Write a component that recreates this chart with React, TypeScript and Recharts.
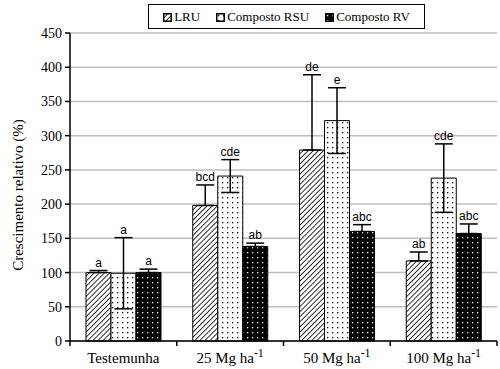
import React from "react";
import {
    BarChart,
    Bar,
    XAxis,
    YAxis,
    CartesianGrid,
    ErrorBar,
    LabelList,
} from "recharts";

const categories = ["Testemunha", "25 Mg ha-1", "50 Mg ha-1", "100 Mg ha-1"];

const lru = [100, 198, 279, 117];
const lruErr = [3, 30, 110, 13];
const lruLetters = ["a", "bcd", "de", "ab"];

const rsu = [99, 241, 322, 238];
const rsuErr = [52, 24, 48, 50];
const rsuLetters = ["a", "cde", "e", "cde"];

const rv = [100, 138, 160, 157];
const rvErr = [5, 5, 10, 14];
const rvLetters = ["a", "ab", "abc", "abc"];

const yTicks = [0, 50, 100, 150, 200, 250, 300, 350, 400, 450];

// LRU and RV bars are opaque, so only the upper half of their error bars shows
const data = categories.map((name, i) => ({
    name,
    lru: lru[i],
    lruErr: [0, lruErr[i]],
    rsu: rsu[i],
    rsuErr: rsuErr[i],
    rv: rv[i],
    rvErr: [0, rvErr[i]],
}));

const serif = "'Liberation Serif', 'Times New Roman', serif";
const sans = "'Liberation Sans', Arial, sans-serif";
const W = 500;
const H = 369;
const plotLeft = 70;
const plotRight = 3;
const band = (W - plotLeft - plotRight) / categories.length;

// letter above the top of each error bar
const letterLabel = (letters: string[], errs: number[]) => (props: any) => {
    const { x, y, width, height, value, index } = props;
    if (value == null || !height) return null;
    const ppu = height / value;
    const top = y - errs[index] * ppu;
    return (
        <text
            x={x + width / 2}
            y={top - 4}
            textAnchor="middle"
            style={{ fontFamily: sans, fontSize: 12 }}
            fill="#000"
        >
            {letters[index]}
        </text>
    );
};

const XTick = (props: any) => {
    const { x, y, payload, index } = props;
    const label: string = payload.value;
    const sup = label.endsWith("-1");
    const main = sup ? label.slice(0, -2) : label;
    return (
        <g>
            <line x1={x - band / 2} x2={x - band / 2} y1={y} y2={y + 5} stroke="#000" strokeWidth={1.5} />
            {index === categories.length - 1 && (
                <line x1={x + band / 2} x2={x + band / 2} y1={y} y2={y + 5} stroke="#000" strokeWidth={1.5} />
            )}
            <text x={x} y={y + 22} textAnchor="middle" style={{ fontFamily: serif, fontSize: 15 }} fill="#000">
                {main}
                {sup && (
                    <tspan dy={-6} style={{ fontSize: 12 }}>
                        -1
                    </tspan>
                )}
            </text>
        </g>
    );
};

const YTick = (props: any) => {
    const { x, y, payload } = props;
    return (
        <text x={x} y={y + 5} textAnchor="end" style={{ fontFamily: serif, fontSize: 14 }} fill="#000">
            {payload.value}
        </text>
    );
};

const YLabel = (props: any) => {
    const { viewBox } = props;
    const cx = 18;
    const cy = viewBox.y + viewBox.height / 2 + 8;
    return (
        <text
            x={cx}
            y={cy}
            transform={`rotate(-90 ${cx} ${cy})`}
            textAnchor="middle"
            dominantBaseline="central"
            style={{ fontFamily: serif, fontSize: 15 }}
            fill="#000"
        >
            Crescimento relativo (%)
        </text>
    );
};

const Swatch = ({ fill }: { fill: string }) => (
    <svg width={9} height={9} style={{ verticalAlign: "middle", marginRight: 2 }}>
        <rect x={0.75} y={0.75} width={7.5} height={7.5} fill={fill} stroke="#000" strokeWidth={1.5} />
    </svg>
);

const Patterns = () => (
    <defs>
        <pattern id="hatch" width={3.6} height={3.6} patternUnits="userSpaceOnUse" patternTransform="rotate(45)">
            <rect width={3.6} height={3.6} fill="#fff" />
            <line x1={0} y1={0} x2={0} y2={3.6} stroke="#000" strokeWidth={1.6} />
        </pattern>
        <pattern id="dots" width={5} height={5} patternUnits="userSpaceOnUse">
            <rect width={5} height={5} fill="#fff" />
            <rect x={2} y={2} width={1.3} height={1.3} fill="#000" />
        </pattern>
        <pattern id="darkdots" width={5} height={5} patternUnits="userSpaceOnUse">
            <rect width={5} height={5} fill="#000" />
            <rect x={2} y={2} width={1.3} height={1.3} fill="#fff" />
        </pattern>
    </defs>
);

export default function App() {
    return (
        <div style={{ position: "absolute", left: 0, top: 0, width: W, height: H, background: "#fff" }}>
            <BarChart
                width={W}
                height={H}
                data={data}
                barGap={0}
                barSize={25}
                margin={{ top: 33, right: plotRight, bottom: 0, left: 0 }}
            >
                <Patterns />
                <CartesianGrid vertical={false} stroke="#bdbdbd" strokeWidth={1.5} />
                <XAxis
                    dataKey="name"
                    height={28}
                    tickLine={false}
                    tickSize={0}
                    tickMargin={0}
                    interval={0}
                    axisLine={{ stroke: "#000", strokeWidth: 1.5 }}
                    tick={<XTick />}
                />
                <YAxis
                    width={plotLeft}
                    domain={[0, 450]}
                    ticks={yTicks}
                    interval={0}
                    tickSize={5}
                    tickMargin={3}
                    axisLine={{ stroke: "#000", strokeWidth: 1.5 }}
                    tickLine={{ stroke: "#000", strokeWidth: 1.5 }}
                    tick={<YTick />}
                    label={<YLabel />}
                />
                <YAxis
                    yAxisId="r"
                    orientation="right"
                    width={0}
                    domain={[0, 450]}
                    tick={false}
                    tickLine={false}
                    axisLine={{ stroke: "#bdbdbd", strokeWidth: 1.5 }}
                />
                <Bar dataKey="lru" fill="url(#hatch)" stroke="#000" strokeWidth={1} isAnimationActive={false}>
                    <ErrorBar dataKey="lruErr" width={9} stroke="#000" strokeWidth={1.5} direction="y" />
                    <LabelList dataKey="lru" content={letterLabel(lruLetters, lruErr)} />
                </Bar>
                <Bar dataKey="rsu" fill="url(#dots)" stroke="#000" strokeWidth={1} isAnimationActive={false}>
                    <ErrorBar dataKey="rsuErr" width={9} stroke="#000" strokeWidth={1.5} direction="y" />
                    <LabelList dataKey="rsu" content={letterLabel(rsuLetters, rsuErr)} />
                </Bar>
                <Bar dataKey="rv" fill="url(#darkdots)" stroke="#000" strokeWidth={1} isAnimationActive={false}>
                    <ErrorBar dataKey="rvErr" width={9} stroke="#000" strokeWidth={1.5} direction="y" />
                    <LabelList dataKey="rv" content={letterLabel(rvLetters, rvErr)} />
                </Bar>
            </BarChart>
            <div
                style={{
                    position: "absolute",
                    left: 148,
                    top: 4,
                    width: 277,
                    height: 25,
                    boxSizing: "border-box",
                    border: "1.5px solid #000",
                    background: "#fff",
                    display: "flex",
                    alignItems: "center",
                    justifyContent: "center",
                    gap: 16,
                    fontFamily: serif,
                    fontSize: 13,
                    color: "#000",
                }}
            >
                <span><Swatch fill="url(#hatch)" />LRU</span>
                <span><Swatch fill="url(#dots)" />Composto RSU</span>
                <span><Swatch fill="url(#darkdots)" />Composto RV</span>
            </div>
        </div>
    );
}
